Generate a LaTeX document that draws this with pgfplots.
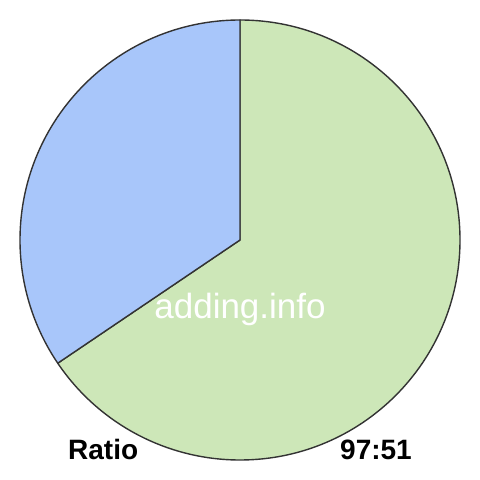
\documentclass[border=0pt]{standalone}
\usepackage{pgfplots}
\usepackage{pgfplotstable}
\pgfplotsset{compat=1.18}
\usepackage{fontspec}
\setmainfont{Liberation Sans}

\definecolor{sliceA}{HTML}{CDE7B8}
\definecolor{sliceB}{HTML}{A8C6FA}
\definecolor{rim}{HTML}{333333}

% ratio parts
\pgfplotstableread{
part value
A 97
B 51
}\ratiodata

\begin{document}
\begin{tikzpicture}
\pgfplotstablegetelem{0}{value}\of\ratiodata \let\va\pgfplotsretval
\pgfplotstablegetelem{1}{value}\of\ratiodata \let\vb\pgfplotsretval
\pgfmathsetmacro{\sweepA}{\va/(\va+\vb)*360}
\pgfmathsetmacro{\endA}{90-\sweepA}
\begin{axis}[
    scale only axis,
    width=480bp, height=480bp,
    xmin=0, xmax=480, ymin=0, ymax=480,
    hide axis,
    clip=false,
]
\path (rel axis cs:0,0) rectangle (rel axis cs:1,1);
% green slice, clockwise from the top
\filldraw[fill=sliceA, draw=rim, line width=1.4bp, line join=round]
    (axis cs:240,240) -- ++(90:220bp) arc[start angle=90, end angle=\endA, radius=220bp] -- cycle;
% blue slice
\filldraw[fill=sliceB, draw=rim, line width=1.4bp, line join=round]
    (axis cs:240,240) -- ++(90:220bp) arc[start angle=90, end angle=\endA+360, radius=220bp] -- cycle;
\node[anchor=base, text=white, font=\fontsize{35bp}{38bp}\selectfont, inner sep=0pt]
    at (axis cs:240,161) {adding.info};
\node[anchor=base west, font=\fontsize{28bp}{30bp}\selectfont\bfseries, inner sep=0pt]
    at (axis cs:68,20) {Ratio};
\node[anchor=base east, font=\fontsize{28bp}{30bp}\selectfont\bfseries, inner sep=0pt]
    at (axis cs:412,20) {\va:\vb};
\end{axis}
\end{tikzpicture}
\end{document}
